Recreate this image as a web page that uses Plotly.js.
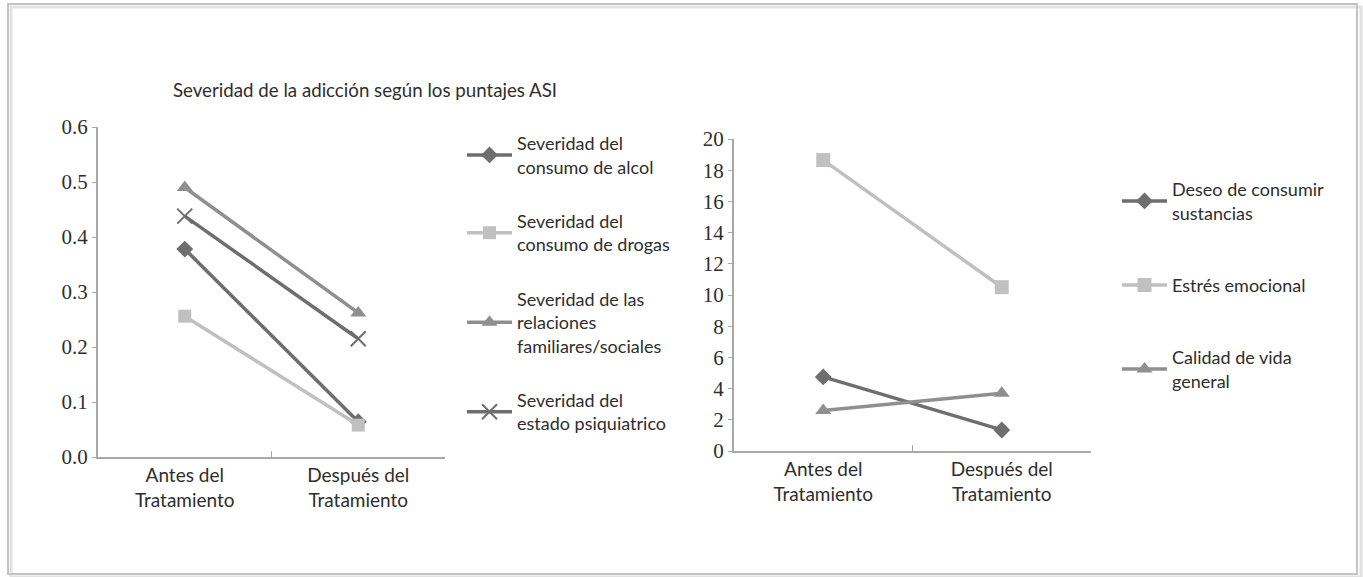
<!DOCTYPE html>
<html>
<head>
<meta charset="utf-8">
<script src="https://cdn.plot.ly/plotly-3.0.1.min.js"></script>
<style>
html,body{margin:0;padding:0;background:#fff;}
#chart{width:1363px;height:577px;}
</style>
</head>
<body>
<div id="chart"></div>
<script>
// ---- Data ----
const categories = ["Antes del<br>Tratamiento", "Después del<br>Tratamiento"];

// Left panel: ASI severity scores
const leftNames = [
  "Severidad del<br>consumo de alcol",
  "Severidad del<br>consumo de drogas",
  "Severidad de las<br>relaciones<br>familiares/sociales",
  "Severidad del<br>estado psiquiatrico"
];
const alcohol      = [0.378, 0.064];
const drogas       = [0.256, 0.058];
const relaciones   = [0.490, 0.262];
const psiquiatrico = [0.438, 0.215];

// Right panel
const rightNames = [
  "Deseo de consumir<br>sustancias",
  "Estrés emocional",
  "Calidad de vida<br>general"
];
const deseo   = [4.75, 1.35];
const estres  = [18.65, 10.5];
const calidad = [2.6, 3.7];

const titleText = "Severidad de la adicción según los puntajes ASI";

// ---- Styles ----
const DARK = "#6e6e6e", LIGHT = "#c0c0c0", MID = "#8f8f8f";
const TEXT = "#2e2e2e";
const textFont = "Lato, 'Open Sans', sans-serif";
const numFont = "'Liberation Serif', 'DejaVu Serif', serif";

function tr(y, name, color, symbol, xa, ya, legend, group, msize) {
  const marker = {symbol: symbol, size: msize || 13, color: color};
  if (symbol.indexOf("open") >= 0) marker.line = {color: color, width: 2};
  return {
    x: categories, y: y, name: name, type: "scatter", mode: "lines+markers",
    line: {color: color, width: 3.5}, marker: marker,
    xaxis: xa, yaxis: ya, legend: legend, legendgroup: group
  };
}

const traces = [
  tr(alcohol, leftNames[0], DARK, "diamond", "x", "y", "legend", "a", 13),
  tr(drogas, leftNames[1], LIGHT, "square", "x", "y", "legend", "b", 13),
  tr(relaciones, leftNames[2], MID, "triangle-up", "x", "y", "legend", "c", 14),
  tr(psiquiatrico, leftNames[3], DARK, "x-thin-open", "x", "y", "legend", "d", 15),
  tr(deseo, rightNames[0], DARK, "diamond", "x2", "y2", "legend2", "e", 13),
  tr(estres, rightNames[1], LIGHT, "square", "x2", "y2", "legend2", "f", 14),
  tr(calidad, rightNames[2], MID, "triangle-up", "x2", "y2", "legend2", "g", 14)
];

const W = 1363, H = 577;
const px = v => v / W, py = v => 1 - v / H;

const xCommon = {
  type: "category", range: [-0.5, 1.5], showline: true, linecolor: "#a8a8a8", linewidth: 2,
  ticks: "inside", tickson: "boundaries", ticklen: 6, tickcolor: "#a8a8a8", tickwidth: 1.5,
  showgrid: false, zeroline: false, fixedrange: true,
  tickfont: {family: textFont, size: 19, color: TEXT}
};
const yCommon = {
  showline: true, linecolor: "#a8a8a8", linewidth: 2, ticks: "outside", ticklen: 4,
  tickcolor: "#a8a8a8", showgrid: false, zeroline: false, fixedrange: true,
  tickfont: {family: numFont, size: 21, color: TEXT}
};

const layout = {
  width: W, height: H,
  margin: {l: 0, r: 0, t: 0, b: 0},
  paper_bgcolor: "#ffffff", plot_bgcolor: "#ffffff",
  showlegend: true,
  xaxis: Object.assign({}, xCommon, {domain: [px(98), px(445)], anchor: "y"}),
  yaxis: Object.assign({}, yCommon, {domain: [py(457), py(127)], range: [0, 0.6], dtick: 0.1, tickformat: ".1f", anchor: "x"}),
  xaxis2: Object.assign({}, xCommon, {domain: [px(734), px(1091)], anchor: "y2"}),
  yaxis2: Object.assign({}, yCommon, {domain: [py(451), py(139)], range: [0, 20], dtick: 2, anchor: "x2"}),
  legend: {
    x: px(462), y: py(125), xanchor: "left", yanchor: "top",
    font: {family: textFont, size: 18, color: TEXT}, itemwidth: 45,
    tracegroupgap: 28, bgcolor: "rgba(0,0,0,0)", valign: "middle"
  },
  legend2: {
    x: px(1117), y: py(171), xanchor: "left", yanchor: "top",
    font: {family: textFont, size: 18, color: TEXT}, itemwidth: 45,
    tracegroupgap: 46, bgcolor: "rgba(0,0,0,0)", valign: "middle"
  },
  annotations: [{
    text: titleText, xref: "paper", yref: "paper", x: px(171), y: py(90),
    xanchor: "left", yanchor: "middle", showarrow: false,
    font: {family: textFont, size: 18.7, color: TEXT}
  }],
  shapes: [
    {type: "rect", xref: "paper", yref: "paper", x0: px(11), x1: px(1361), y0: py(577), y1: py(7),
     line: {color: "#e2e2e2", width: 3}, fillcolor: "rgba(0,0,0,0)", layer: "below"},
    {type: "rect", xref: "paper", yref: "paper", x0: px(8), x1: px(1357), y0: py(574), y1: py(4),
     line: {color: "#c4c4c4", width: 2}, fillcolor: "rgba(0,0,0,0)", layer: "below"}
  ]
};

Plotly.newPlot("chart", traces, layout, {displayModeBar: false, staticPlot: true});
</script>
</body>
</html>
